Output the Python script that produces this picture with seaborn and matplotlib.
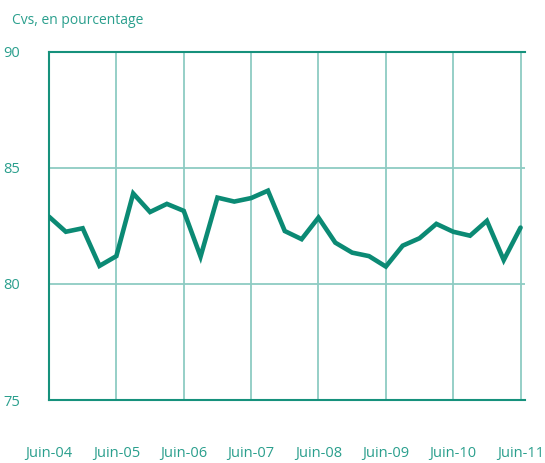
import numpy as np
import pandas as pd
import matplotlib
matplotlib.use("Agg")
import matplotlib.pyplot as plt
import seaborn as sns

# --- DATA ---
# quarterly values, Juin-04 .. Juin-11
valeurs = [82.9, 82.25, 82.4, 80.78, 81.2, 83.9, 83.1, 83.45, 83.15, 81.18,
           83.72, 83.55, 83.7, 84.02, 82.28, 81.93, 82.86, 81.78, 81.35, 81.2,
           80.75, 81.65, 81.97, 82.59, 82.25, 82.08, 82.72, 81.03, 82.43]
trimestre = list(range(len(valeurs)))
tick_pos = [0, 4, 8, 12, 16, 20, 24, 28]
tick_labels = ["Juin-04", "Juin-05", "Juin-06", "Juin-07", "Juin-08",
               "Juin-09", "Juin-10", "Juin-11"]
y_ticks = [75, 80, 85, 90]

df = pd.DataFrame({"t": trimestre, "v": valeurs})

# --- STYLE ---
sns.set_style("white")
plt.rcParams['font.family'] = ['Open Sans', 'DejaVu Sans']
line_col = "#0b8a74"
grid_col = "#8ecbc3"
text_col = "#2a9f8d"
dark_teal = "#16917c"

fig = plt.figure(figsize=(5.45, 4.63), dpi=100)
ax = fig.add_axes([0.0899, 0.136, 0.873, 0.752])

sns.lineplot(data=df, x="t", y="v", ax=ax, color=line_col, lw=3.3,
             solid_joinstyle='miter', zorder=3)

ax.set_xlim(0, 28.25)
ax.set_ylim(75, 90)
ax.set_xticks(tick_pos)
ax.set_xticklabels(tick_labels)
ax.set_yticks(y_ticks)
ax.set_xlabel("")
ax.set_ylabel("")

ax.grid(True, color=grid_col, lw=1.3, zorder=1)
ax.spines["right"].set_visible(False)
for s in ["top", "left", "bottom"]:
    ax.spines[s].set_color(dark_teal)
    ax.spines[s].set_linewidth(1.5)

ax.tick_params(axis="x", direction="out", length=7, width=1, color="#333333",
               pad=26, labelsize=10.5, labelcolor=text_col)
ax.tick_params(axis="y", direction="out", length=7, width=1, color="#333333",
               pad=14, labelsize=10.5, labelcolor=text_col)

fig.text(0.022, 0.955, "Cvs, en pourcentage", color=text_col, fontsize=10,
         ha="left", va="center")

plt.savefig("out.png", dpi=100)
